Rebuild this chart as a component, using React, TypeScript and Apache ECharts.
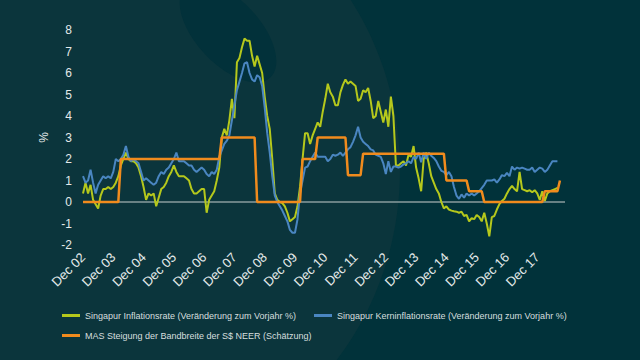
import React, { useEffect, useRef } from "react";
import * as echarts from "echarts";

const tickLabels = ["Dec 02","Dec 03","Dec 04","Dec 05","Dec 06","Dec 07","Dec 08","Dec 09","Dec 10","Dec 11","Dec 12","Dec 13","Dec 14","Dec 15","Dec 16","Dec 17"];

// monthly categories Dec 2002 .. Nov 2018
const categories: string[] = [];
for (let i = 0; i < 192; i++) {
  const m = (11 + i) % 12;
  const y = 2002 + Math.floor((11 + i) / 12);
  categories.push(`${y}-${String(m + 1).padStart(2, "0")}`);
}

const headline = [
  0.4,0.9,0.4,0.8,0.1,-0.1,-0.3,0.3,0.6,0.6,0.7,0.6,
  0.7,0.9,1.2,1.7,2.0,2.3,2.0,1.9,1.9,1.8,1.6,1.2,
  0.7,0.1,0.4,0.3,0.4,-0.2,0.2,0.6,0.7,0.9,1.2,1.4,
  1.7,1.4,1.2,1.2,1.2,1.1,1.0,0.6,0.4,0.4,0.5,0.6,
  0.6,-0.5,0.1,0.3,0.5,1.0,1.6,3.0,3.4,3.1,3.8,4.8,
  3.9,6.5,6.7,7.2,7.6,7.5,7.5,6.8,6.3,6.8,6.4,6.0,
  4.9,4.0,3.4,2.0,0.4,0.1,0.0,-0.05,-0.2,-0.5,-0.9,-0.8,
  -0.7,-0.2,0.7,2.0,3.2,3.2,2.7,3.1,3.4,3.7,3.5,4.2,
  4.8,5.5,5.1,4.9,4.5,4.5,5.1,5.45,5.7,5.5,5.6,5.5,
  5.4,4.7,4.8,5.2,5.1,5.3,4.7,3.9,4.0,4.7,4.2,3.7,
  4.3,3.5,4.9,4.0,1.7,1.7,1.8,1.9,1.7,2.2,2.1,2.6,
  1.6,1.1,0.5,2.0,2.3,1.8,1.2,0.9,0.6,0.4,0.0,-0.3,
  -0.2,-0.35,-0.4,-0.43,-0.45,-0.5,-0.45,-0.65,-0.6,-0.9,-0.75,-0.8,
  -0.6,-0.7,-0.9,-0.5,-1.0,-1.6,-0.7,-0.65,-0.35,-0.1,0.05,0.15,
  0.4,0.6,0.75,0.6,0.5,1.4,0.6,0.55,0.5,0.55,0.45,0.55,
  0.4,0.1,0.5,0.05,0.4,0.5,0.55,0.6,0.65
];

const core = [
  1.2,0.9,1.0,1.5,0.9,0.4,0.8,1.0,1.2,1.1,1.2,1.1,
  1.4,2.0,1.9,2.0,2.2,2.6,2.1,1.9,2.0,1.9,1.8,1.4,
  1.0,1.1,1.0,0.9,0.8,0.9,1.2,1.4,1.3,1.5,1.6,1.8,
  2.0,2.3,1.9,1.9,1.9,1.8,1.7,1.7,1.5,1.4,1.5,1.6,
  1.5,1.3,1.2,1.4,1.3,1.5,2.1,2.4,2.7,2.85,3.1,3.8,
  4.5,5.2,5.6,6.0,6.45,6.5,6.0,5.7,5.6,5.9,5.8,5.4,
  4.4,3.2,2.3,1.2,0.3,0.0,-0.2,-0.4,-0.65,-0.9,-1.3,-1.43,
  -1.43,-0.8,0.4,1.0,1.6,1.65,1.9,2.1,2.3,2.1,2.1,2.1,
  2.1,1.9,2.0,2.2,2.15,2.2,2.3,2.15,2.3,2.45,2.55,2.8,
  3.1,3.5,3.0,2.8,2.7,2.6,2.45,2.4,2.2,2.15,2.1,1.8,
  1.3,1.9,1.4,1.65,1.65,1.6,1.65,1.75,1.8,1.9,1.8,2.1,
  2.0,2.3,1.85,2.3,2.0,2.3,2.15,2.05,1.9,1.65,1.45,1.4,
  1.25,1.4,1.2,0.7,0.3,0.15,0.35,0.2,0.4,0.3,0.4,0.3,
  0.4,0.5,0.65,0.8,1.0,1.0,1.0,1.05,0.9,1.05,1.25,1.2,
  1.35,1.2,1.65,1.5,1.6,1.55,1.6,1.55,1.5,1.5,1.6,1.4,
  1.5,1.6,1.55,1.4,1.5,1.7,1.9,1.9,1.9
];

const masSlope = [
  0,0,0,0,0,0,0,0,0,0,0,0,
  0,0,0,2,2,2,2,2,2,2,2,2,
  2,2,2,2,2,2,2,2,2,2,2,2,
  2,2,2,2,2,2,2,2,2,2,2,2,
  2,2,2,2,2,2,2,3,3,3,3,3,
  3,3,3,3,3,3,3,3,3,0,0,0,
  0,0,0,0,0,0,0,0,0,0,0,0,
  0,0,0,2,2,2,2,2,2,3,3,3,
  3,3,3,3,3,3,3,3,3,1.25,1.25,1.25,
  1.25,1.25,1.25,2.25,2.25,2.25,2.25,2.25,2.25,2.25,2.25,2.25,
  2.25,2.25,2.25,2.25,2.25,2.25,2.25,2.25,2.25,2.25,2.25,2.25,
  2.25,2.25,2.25,2.25,2.25,2.25,2.25,2.25,2.25,2.25,2.25,2.25,
  1,1,1,1,1,1,1,1,1,0.5,0.5,0.5,
  0.5,0.5,0.5,0,0,0,0,0,0,0,0,0,
  0,0,0,0,0,0,0,0,0,0,0,0,
  0,0,0,0.5,0.5,0.5,0.5,0.5,0.5,1
];

const seriesNames = [
  "Singapur Inflationsrate (Veränderung zum Vorjahr %)",
  "Singapur Kerninflationsrate (Veränderung zum Vorjahr %)",
  "MAS Steigung der Bandbreite der S$ NEER (Schätzung)",
];
const yTicks = { min: -2, max: 8, interval: 1 };

const colors = ["#b5c81c", "#4a86c1", "#f18b1d"];

export default function App() {
  const ref = useRef<HTMLDivElement>(null);
  useEffect(() => {
    if (!ref.current) return;
    const chart = echarts.init(ref.current, null, { renderer: "svg" });
    const legendText = { color: "#d6dfdf", fontSize: 9, fontFamily: "Liberation Sans, Arial, sans-serif" };
    const legendBase = { icon: "rect", itemWidth: 18, itemHeight: 3, padding: 0, textStyle: legendText };
    chart.setOption({
      animation: false,
      backgroundColor: "#01323a",
      textStyle: { fontFamily: "Liberation Sans, Arial, sans-serif" },
      graphic: [
        { type: "ellipse", shape: { cx: 120, cy: 170, rx: 280, ry: 300 }, style: { fill: "#0b353c" }, z: -10, silent: true },
        { type: "ellipse", x: 228, y: 32, rotation: 0.75, shape: { cx: 0, cy: 0, rx: 32, ry: 62 }, style: { fill: "#02313a" }, z: -9, silent: true },
      ],
      grid: { left: 83, right: 75, top: 30, bottom: 115, containLabel: false },
      legend: [
        { ...legendBase, data: [seriesNames[0]], left: 62, top: 311 },
        { ...legendBase, data: [seriesNames[1]], left: 314, top: 311 },
        { ...legendBase, data: [seriesNames[2]], left: 62, top: 331 },
      ],
      xAxis: {
        type: "category",
        data: categories,
        boundaryGap: false,
        axisLine: { show: false },
        axisTick: { show: false },
        axisLabel: {
          interval: (index: number) => index % 12 === 0,
          rotate: 45,
          margin: 10,
          color: "#e4eaea",
          fontSize: 13,
          formatter: (value: string) => {
            const y = parseInt(value.slice(0, 4), 10);
            return tickLabels[y - 2002] ?? "";
          },
        },
        splitLine: { show: false },
      },
      yAxis: {
        type: "value",
        min: yTicks.min,
        max: yTicks.max,
        interval: yTicks.interval,
        name: "%",
        nameLocation: "middle",
        nameGap: 33,
        nameTextStyle: { color: "#e4eaea", fontSize: 12 },
        axisLine: { show: false },
        axisTick: { show: false },
        splitLine: { show: false },
        axisLabel: { color: "#e4eaea", fontSize: 12, margin: 11 },
      },
      series: [
        {
          name: seriesNames[0],
          type: "line",
          data: headline,
          symbol: "none",
          lineStyle: { color: colors[0], width: 2 },
          itemStyle: { color: colors[0] },
          z: 2,
          markLine: {
            silent: true,
            symbol: "none",
            label: { show: false },
            lineStyle: { color: "#8a9c9e", width: 1.5, type: "solid" },
            data: [{ yAxis: 0 }],
            z: 1,
          },
        },
        {
          name: seriesNames[1],
          type: "line",
          data: core,
          symbol: "none",
          lineStyle: { color: colors[1], width: 2 },
          itemStyle: { color: colors[1] },
          z: 3,
        },
        {
          name: seriesNames[2],
          type: "line",
          data: masSlope,
          symbol: "none",
          lineStyle: { color: colors[2], width: 2.5 },
          itemStyle: { color: colors[2] },
          z: 4,
        },
      ],
    });
    return () => chart.dispose();
  }, []);
  return <div ref={ref} style={{ width: 640, height: 360, position: "absolute", left: 0, top: 0 }} />;
}
